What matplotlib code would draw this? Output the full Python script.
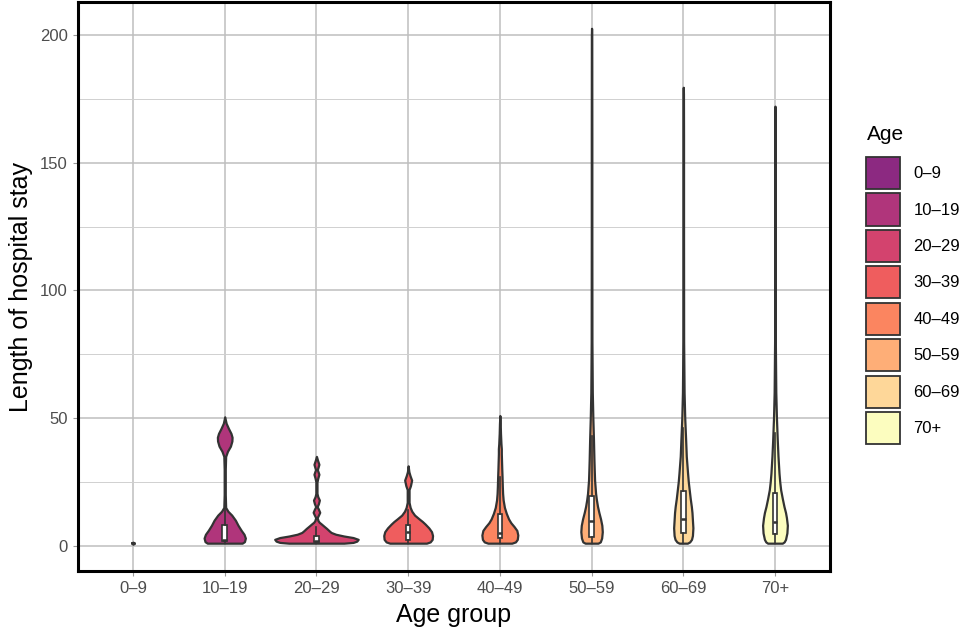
import matplotlib.pyplot as plt
import numpy as np
from matplotlib.patches import Patch
from matplotlib.ticker import MultipleLocator

plt.rcParams['font.family'] = ['Liberation Sans', 'DejaVu Sans']

age_groups = ["0–9", "10–19", "20–29", "30–39", "40–49", "50–59", "60–69", "70+"]

# violin outlines: stay length (days) and half width at that length
v_0_9 = [0.6, 1.0, 1.4]
w_0_9 = [0.0, 0.015, 0.0]

v_10_19 = [1.0, 1.6, 3, 4.5, 6, 8, 10, 12, 13.5, 15, 20, 30, 35, 37, 39, 41, 42.5, 44, 46, 48, 50.5]
w_10_19 = [0.19, 0.215, 0.225, 0.21, 0.18, 0.145, 0.116, 0.076, 0.035, 0.01, 0.006, 0.006, 0.01,
           0.03, 0.062, 0.078, 0.08, 0.068, 0.04, 0.015, 0.0]

v_20_29 = [1.0, 1.3, 1.8, 2.5, 3.2, 3.8, 4.5, 5.2, 5.8, 6.8, 7.7, 8.5, 9.2, 9.8, 11, 12, 13.1, 14.3,
           15.3, 16.5, 17.9, 19.2, 20.5, 25, 26.5, 28, 29.8, 31.9, 33.5, 35]
w_20_29 = [0.30, 0.40, 0.44, 0.455, 0.40, 0.30, 0.21, 0.16, 0.14, 0.11, 0.08, 0.054, 0.03, 0.018,
           0.008, 0.022, 0.036, 0.022, 0.008, 0.022, 0.032, 0.015, 0.006, 0.006, 0.015, 0.027,
           0.01, 0.027, 0.012, 0.0]

v_30_39 = [1.0, 1.5, 2.5, 4, 5.5, 7, 8.5, 9.5, 10.5, 12, 13.5, 15, 17, 22, 23.5, 25.7, 27.5, 29, 31.3]
w_30_39 = [0.2, 0.24, 0.262, 0.266, 0.255, 0.225, 0.185, 0.155, 0.12, 0.07, 0.04, 0.022, 0.01,
           0.01, 0.025, 0.038, 0.02, 0.008, 0.0]

v_40_49 = [1.0, 1.5, 2.5, 4.2, 6, 7.5, 9, 10.5, 12.7, 15, 17.9, 20.5, 23.2, 27, 30, 33.6, 36, 38,
           40, 44, 48, 51]
w_40_49 = [0.13, 0.17, 0.19, 0.196, 0.185, 0.155, 0.12, 0.095, 0.07, 0.05, 0.036, 0.03, 0.027,
           0.024, 0.021, 0.018, 0.016, 0.016, 0.012, 0.007, 0.004, 0.0]

v_50_59 = [1.0, 1.5, 3, 5.5, 8, 10.5, 13, 15.4, 18, 20.5, 25.7, 30, 33.6, 41.4, 50, 60, 80, 120,
           160, 200, 202.7]
w_50_59 = [0.07, 0.095, 0.11, 0.117, 0.112, 0.098, 0.08, 0.065, 0.053, 0.044, 0.033, 0.029, 0.026,
           0.021, 0.014, 0.008, 0.004, 0.003, 0.003, 0.002, 0.0]

v_60_69 = [1.0, 1.5, 2.5, 4, 7, 10, 13, 15.4, 18.5, 21.9, 25, 28.4, 35, 41.4, 50, 60, 80, 120,
           160, 177, 179.6]
w_60_69 = [0.045, 0.07, 0.09, 0.1, 0.105, 0.1, 0.095, 0.088, 0.076, 0.065, 0.055, 0.047, 0.033,
           0.026, 0.016, 0.009, 0.004, 0.003, 0.003, 0.002, 0.0]

v_70p = [1.0, 1.5, 2.5, 5, 8, 11, 13, 15.4, 18.5, 21.9, 25, 28.4, 35, 41.4, 50, 60, 80, 120,
         160, 170, 172.2]
w_70p = [0.08, 0.1, 0.115, 0.13, 0.135, 0.125, 0.115, 0.098, 0.08, 0.062, 0.052, 0.044, 0.033,
         0.025, 0.016, 0.009, 0.004, 0.003, 0.003, 0.002, 0.0]

# boxplot summaries per group
q1 = [1, 2.0, 1.3, 2.2, 3.0, 3.6, 5.0, 4.6]
med = [1, 2.3, 2.0, 5.2, 5.0, 9.5, 10.5, 9.4]
q3 = [1, 8.2, 3.8, 8.1, 12.5, 19.5, 21.5, 20.5]
whis_lo = [1, 1, 1, 1, 1, 1, 1, 1]
whis_hi = [1, 15, 7.5, 14, 27, 43, 46, 44]

profiles = [(v_0_9, w_0_9), (v_10_19, w_10_19), (v_20_29, w_20_29), (v_30_39, w_30_39),
            (v_40_49, w_40_49), (v_50_59, w_50_59), (v_60_69, w_60_69), (v_70p, w_70p)]

colors = plt.cm.magma(np.linspace(0.4, 1.0, len(age_groups)))
line_col = "#333333"

fig = plt.figure(figsize=(9.69, 6.28), dpi=100)
ax = fig.add_axes([78 / 969, 57 / 628, 752 / 969, 569 / 628])

pos = np.arange(1, len(age_groups) + 1)
for x, (vy, vw), col in zip(pos, profiles, colors):
    vy = np.array(vy)
    vw = np.array(vw)
    ax.fill_betweenx(vy, x - vw, x + vw, facecolor=col, edgecolor=line_col,
                     linewidth=1.6, joinstyle="round", zorder=2)

stats = [dict(q1=a, med=m, q3=b, whislo=lo, whishi=hi, fliers=[])
         for a, m, b, lo, hi in zip(q1, med, q3, whis_lo, whis_hi)]
ax.bxp(stats, positions=pos, widths=0.05, patch_artist=True, showcaps=False,
       boxprops=dict(facecolor="white", edgecolor=line_col, linewidth=1.2),
       medianprops=dict(color=line_col, linewidth=1.8),
       whiskerprops=dict(color=line_col, linewidth=1.2), zorder=3)

ax.set_xlim(0.4, 8.6)
ax.set_ylim(-9.9, 213)
ax.set_xticks(pos)
ax.set_xticklabels(age_groups)
ax.yaxis.set_major_locator(MultipleLocator(50))
ax.yaxis.set_minor_locator(MultipleLocator(25))

ax.set_axisbelow(True)
ax.grid(True, which="major", color="#bebebe", linewidth=1.1)
ax.grid(True, which="minor", axis="y", color="#d0d0d0", linewidth=0.7)
for s in ax.spines.values():
    s.set_color("black")
    s.set_linewidth(2.2)

ax.tick_params(which="major", length=3.5, width=0.8, color="#999999",
               labelsize=12, labelcolor="#4d4d4d", pad=4)
ax.tick_params(which="minor", length=0)

ax.set_xlabel("Age group", fontsize=18, labelpad=5)
ax.set_ylabel("Length of hospital stay", fontsize=18, labelpad=5)

# legend: title as its own text so the gap above the keys can be set
fig.text(867 / 969, 1 - 134 / 628, "Age", fontsize=15, ha="left", va="center")
handles = [Patch(facecolor=c, edgecolor=line_col, linewidth=1.3) for c in colors]
fig.legend(handles, age_groups, loc="upper left", bbox_to_anchor=(866 / 969, 1 - 157 / 628),
           frameon=False, fontsize=12,
           handlelength=2.05, handleheight=2.6, labelspacing=0.25, handletextpad=0.8,
           borderpad=0, borderaxespad=0)

fig.savefig("out.png", dpi=100)
